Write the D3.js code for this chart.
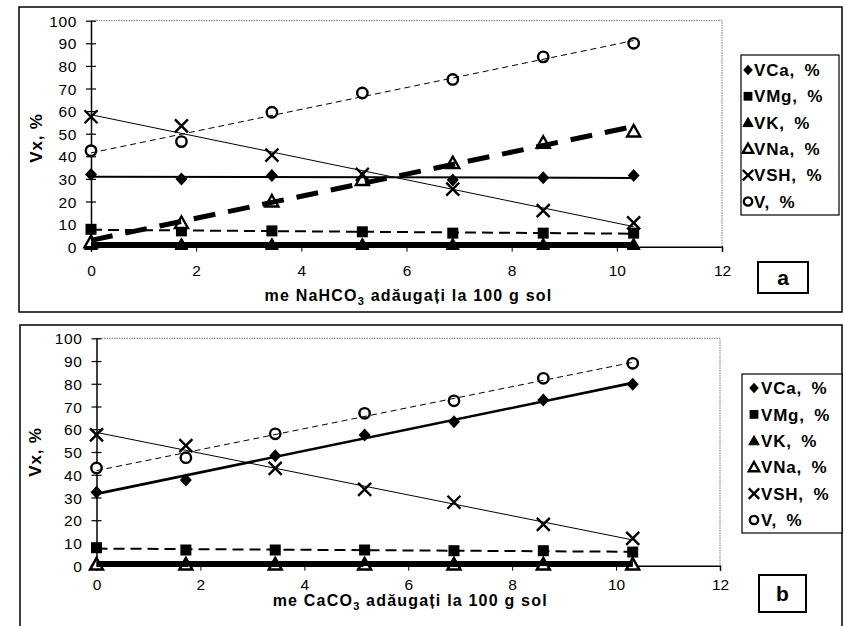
<!DOCTYPE html>
<html><head><meta charset="utf-8">
<script src="https://cdn.jsdelivr.net/npm/d3@7"></script>
<style>
body{margin:0;background:#fff;}
svg{display:block;font-family:"Liberation Sans",Arial,sans-serif;}
</style></head>
<body><svg id="c" width="845" height="626"></svg>
<script>
// ---------- data ----------
const xValues = [0, 1.72, 3.44, 5.16, 6.88, 8.6, 10.32];
const xTicks = [0, 2, 4, 6, 8, 10, 12];
const yTicks = [0, 10, 20, 30, 40, 50, 60, 70, 80, 90, 100];
const seriesNames = ["VCa, %", "VMg, %", "VK, %", "VNa, %", "VSH, %", "V, %"];

// chart a  (NaHCO3)
const aVCa = [32, 30, 31.5, 30, 29.5, 30.5, 31.5];
const aVMg = [7.7, 7, 7, 6.6, 6, 6, 6];
const aVK  = [1, 1, 1, 1, 1, 1, 1];
const aVNa = [2, 10.5, 20, 29.5, 37, 46, 51];
const aVSH = [57.5, 53.5, 40.5, 32, 25.5, 16, 10.5];
const aV   = [42.5, 46.5, 59.5, 68, 74, 84, 90];

// chart b  (CaCO3)
const bVCa = [32.3, 37.7, 48.4, 57.5, 63.3, 72.9, 79.8];
const bVMg = [7.9, 6.9, 6.9, 6.9, 6.6, 6.6, 6.0];
const bVK  = [1, 1, 1, 1, 1, 1, 1];
const bVNa = [0.5, 0.5, 0.5, 0.5, 0.5, 0.5, 0.5];
const bVSH = [57.5, 52.8, 42.8, 33.6, 27.9, 18.2, 12.0];
const bV   = [43, 47.5, 58, 67, 72.5, 82.4, 89];

const titleA = ["me NaHCO", "3", " adăugați la 100 g sol"];
const titleB = ["me CaCO", "3", " adăugați la 100 g sol"];
const yTitle = "Vx, %";

// ---------- styles ----------
const styles = [
  {marker:"diamond", fill:"#000", lw:2,   dash:null},
  {marker:"square",  fill:"#000", lw:2,   dash:"11,6"},
  {marker:"triangle",fill:"#000", lw:5,   dash:null},
  {marker:"triangle",fill:"#fff", lw:5,   dash:"22,13"},
  {marker:"x",       fill:"none", lw:1,   dash:null},
  {marker:"circle",  fill:"#fff", lw:1,   dash:"6,4"}
];

const charts = [
  {series:[aVCa,aVMg,aVK,aVNa,aVSH,aV], title:titleA, tag:"a",
   frame:[19,7,823,305], plot:{l:91,r:722,t:20.7,b:246.7},
   legend:{x:741,y:55,w:98,h:160,r0:70,step:26.3,mx:748,tx:754},
   tagBox:[758,262,50,31], tickY:276, titleY:301, ylab:[36,138], caW:2},
  {series:[bVCa,bVMg,bVK,bVNa,bVSH,bV], title:titleB, tag:"b",
   frame:[20,325,822,320], plot:{l:96.5,r:720,t:338.3,b:565.7},
   legend:{x:742,y:374,w:100,h:159,r0:388,step:26.4,mx:754,tx:761},
   tagBox:[759,575,47,37], tickY:590, titleY:606, ylab:[35,452], caW:2.6}
];

function regress(xs, ys){
  const n = xs.length, mx = d3.mean(xs), my = d3.mean(ys);
  let sxy=0, sxx=0;
  for(let i=0;i<n;i++){ sxy+=(xs[i]-mx)*(ys[i]-my); sxx+=(xs[i]-mx)**2; }
  const s = sxy/sxx; return {s, b: my - s*mx};
}

function marker(g, type, fill, cx, cy, k){
  k = k || 1;
  if(type==="diamond"){
    g.append("path").attr("d",`M${cx},${cy-6.5*k}L${cx+6*k},${cy}L${cx},${cy+6.5*k}L${cx-6*k},${cy}Z`).attr("fill","#000");
    return;
  }
  if(type==="square"){
    const h = 5.5*k;
    g.append("rect").attr("x",cx-h).attr("y",cy-h).attr("width",2*h).attr("height",2*h).attr("fill","#000");
    return;
  }
  if(type==="triangle"){
    const p = `M${cx},${cy-6.5*k}L${cx+6.5*k},${cy+5*k}L${cx-6.5*k},${cy+5*k}Z`;
    g.append("path").attr("d",p).attr("fill",fill).attr("stroke","#000").attr("stroke-width",fill==="#000"?1:2.4).attr("stroke-linejoin","miter");
    return;
  }
  if(type==="x"){
    const h = 6.5*k;
    g.append("path").attr("d",`M${cx-h},${cy-h}L${cx+h},${cy+h}M${cx+h},${cy-h}L${cx-h},${cy+h}`)
     .attr("stroke","#000").attr("stroke-width",2.4).attr("fill","none");
    return;
  }
  if(type==="circle"){
    g.append("circle").attr("cx",cx).attr("cy",cy).attr("r",5.2*k).attr("fill","#fff").attr("stroke","#000").attr("stroke-width",2.4);
  }
}

const svg = d3.select("#c");

charts.forEach(ch => {
  const g = svg.append("g");
  const [fx,fy,fw,fh] = ch.frame;
  g.append("rect").attr("x",fx).attr("y",fy).attr("width",fw).attr("height",fh)
   .attr("fill","#fff").attr("stroke","#000").attr("stroke-width",1.5);

  const x = d3.scaleLinear().domain([0,12]).range([ch.plot.l, ch.plot.r]);
  const y = d3.scaleLinear().domain([0,100]).range([ch.plot.b, ch.plot.t]);

  // plot border (top & right dotted)
  g.append("path").attr("d",`M${x(0)},${y(100)}H${x(12)}V${y(0)}`)
   .attr("fill","none").attr("stroke","#777").attr("stroke-width",1).attr("stroke-dasharray","1.5,1");

  // y axis
  const ya = g.append("g").attr("transform",`translate(${x(0)},0)`)
    .call(d3.axisLeft(y).tickValues(yTicks).tickSize(0).tickPadding(14).tickFormat(d3.format("d")));
  ya.select(".domain").attr("stroke","#000").attr("stroke-width",1.5);
  ya.selectAll(".tick").append("line").attr("x1",-5).attr("x2",5).attr("stroke","#000").attr("stroke-width",1.2);
  ya.selectAll("text").attr("font-size",15.5).attr("letter-spacing",0.6).attr("fill","#000")
    .attr("font-family","'Liberation Sans',Arial,sans-serif").attr("dy","0.36em");

  // x axis
  const xa = g.append("g").attr("transform",`translate(0,${y(0)})`)
    .call(d3.axisBottom(x).tickValues(xTicks).tickSize(5).tickPadding(0).tickFormat(d3.format("d")));
  xa.select(".domain").attr("stroke","#000").attr("stroke-width",1.5);
  xa.selectAll(".tick line").attr("stroke","#000").attr("stroke-width",1);
  xa.selectAll("text").attr("font-size",15.5).attr("fill","#000")
    .attr("font-family","'Liberation Sans',Arial,sans-serif")
    .attr("y", ch.tickY - y(0)).attr("dy",0);

  // x title
  const t = g.append("text").attr("x",(x(0)+x(12))/2 + 2).attr("y",ch.titleY)
    .attr("text-anchor","middle").attr("font-weight","bold").attr("font-size",16).attr("letter-spacing",1.2);
  t.append("tspan").text(ch.title[0]);
  t.append("tspan").text(ch.title[1]).attr("font-size",11).attr("dy",4);
  t.append("tspan").text(ch.title[2]).attr("dy",-4);

  // y title
  g.append("text").attr("transform",`translate(${ch.ylab[0]},${ch.ylab[1]}) rotate(-90)`)
   .attr("text-anchor","middle").attr("dy","0.36em").attr("font-weight","bold")
   .attr("font-size",17).attr("letter-spacing",0.8).text(yTitle);

  // markers
  ch.series.forEach((vals,i) => {
    const st = styles[i];
    const mg = g.append("g");
    vals.forEach((v,j) => marker(mg, st.marker, st.fill, x(xValues[j]), y(v)));
  });

  // trend lines
  ch.series.forEach((vals,i) => {
    const st = styles[i];
    const r = regress(xValues, vals);
    const x0 = xValues[0], x1 = xValues[xValues.length-1];
    g.append("line").attr("x1",x(x0)).attr("y1",y(r.b+r.s*x0))
     .attr("x2",x(x1)).attr("y2",y(r.b+r.s*x1))
     .attr("stroke","#000").attr("stroke-width", i===0 ? ch.caW : st.lw)
     .attr("stroke-dasharray", st.dash).attr("stroke-linecap","butt");
  });

  // legend
  const L = ch.legend;
  const lg = g.append("g");
  lg.append("rect").attr("x",L.x).attr("y",L.y).attr("width",L.w).attr("height",L.h)
    .attr("fill","#fff").attr("stroke","#000").attr("stroke-width",1.2);
  seriesNames.forEach((nm,i) => {
    const cy = L.r0 + i*L.step;
    const st = styles[i];
    const mg = lg.append("g");
    marker(mg, st.marker, st.fill, L.mx, cy, 0.8);
    lg.append("text").attr("x",L.tx).attr("y",cy).attr("dy","0.36em")
      .attr("font-weight","bold").attr("font-size",17).attr("word-spacing",4).attr("letter-spacing",0.8).text(nm);
  });

  // tag box
  const [bx,by,bw,bh] = ch.tagBox;
  g.append("rect").attr("x",bx).attr("y",by).attr("width",bw).attr("height",bh)
   .attr("fill","#fff").attr("stroke","#000").attr("stroke-width",2);
  g.append("text").attr("x",bx+bw/2).attr("y",by+bh/2).attr("dy","0.36em").attr("text-anchor","middle")
   .attr("font-weight","bold").attr("font-size",21).text(ch.tag);
});
</script></body></html>
